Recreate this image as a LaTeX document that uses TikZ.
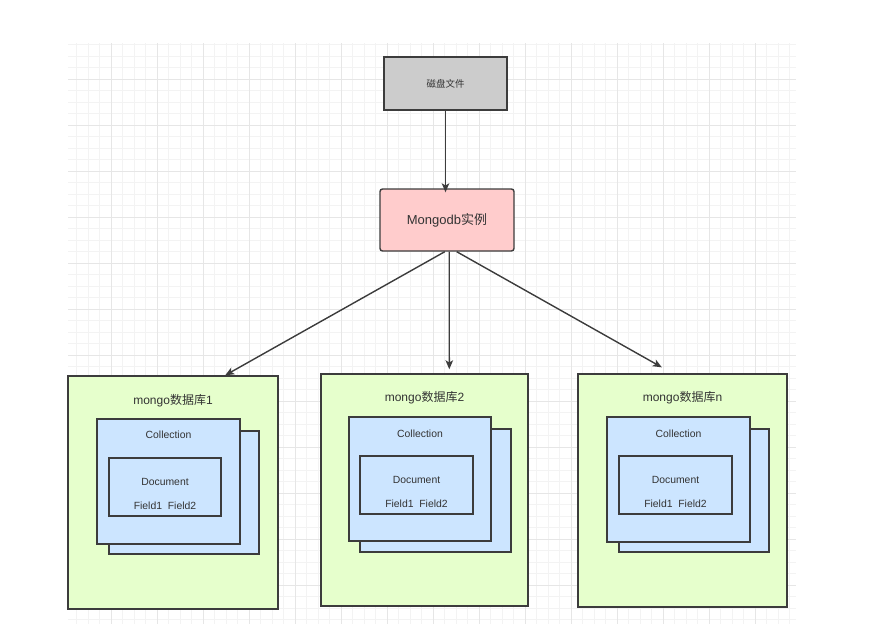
\documentclass[tikz,border=0pt]{standalone}
\usepackage{fontspec}
\setmainfont{Liberation Sans}
\newfontfamily\cjk{Noto Sans CJK SC}
\usepackage{xcolor}
\usepackage{tikz}
\usetikzlibrary{arrows.meta}

\definecolor{edgec}{HTML}{3C3C3C}
\definecolor{txtc}{HTML}{333333}
\definecolor{diskc}{HTML}{CCCCCC}
\definecolor{instc}{HTML}{FFCCCC}
\definecolor{dbc}{HTML}{E6FFCC}
\definecolor{colc}{HTML}{CCE5FF}
\definecolor{gridmin}{HTML}{F3F3F3}
\definecolor{gridmaj}{HTML}{E6E6E6}

\begin{document}
\begin{tikzpicture}[x=1pt, y=-1pt,
  box/.style={rectangle, draw=edgec, line width=1.4pt, inner sep=0pt},
  disk/.style={box, fill=diskc, minimum width=123, minimum height=53},
  inst/.style={box, fill=instc, rounded corners=2.5pt, minimum width=134, minimum height=62},
  db/.style={box, fill=dbc, minimum height=233},
  col/.style={box, fill=colc, minimum height=124},
  doc/.style={box, fill=colc, minimum height=58},
  lbl/.style={text=txtc, inner sep=0pt, font=\fontsize{10.4}{12}\selectfont},
  ttl/.style={text=txtc, inner sep=0pt, font=\fontsize{12}{14}\selectfont},
  ed/.style={-{Stealth[length=9pt, width=7.5pt, inset=2.2pt]}, draw=edgec, line width=1.4pt}
]
\useasboundingbox (0,0) rectangle (887,624);
%% Grid
\begin{scope}
  \clip (68,43) rectangle (796,624);
  \foreach \k in {1,...,63} \draw[gridmin, line width=1pt] ({65.3+11.5*\k},43) -- ({65.3+11.5*\k},624);
  \foreach \k in {1,...,51} \draw[gridmin, line width=1pt] (68,{33.3+11.5*\k}) -- (796,{33.3+11.5*\k});
  \foreach \k in {4,8,...,60} \draw[gridmaj, line width=1pt] ({65.3+11.5*\k},43) -- ({65.3+11.5*\k},624);
  \foreach \k in {4,8,...,48} \draw[gridmaj, line width=1pt] (68,{33.3+11.5*\k}) -- (796,{33.3+11.5*\k});
\end{scope}
%% Top
\node[disk] (dsk) at (445.5,83.5) {};
\node[text=txtc, font=\fontsize{9.5}{11}\selectfont\cjk] (dsktxt) at (445.5,83.5) {磁盘文件};
\node[inst] (mgi) at (447,220) {};
\node[ttl, font=\fontsize{13}{15}\selectfont] (mgitxt) at (447,220) {Mongodb{\cjk 实例}};
%% Database 1
\node[db, minimum width=210] (db1) at (173,492.5) {};
\node[col, minimum width=150, minimum height=123] (colb1) at (184,492.5) {};
\node[col, minimum width=143, minimum height=125] (col1) at (168.5,481.5) {};
\node[doc, minimum width=112] (doc1) at (165,487) {};
\node[ttl] (ttl1) at (173,401) {mongo{\cjk 数据库}1};
\node[lbl] (ctx1) at (168.5,435) {Collection};
\node[lbl] (dtx1) at (165,482) {Document};
\node[lbl] (ftx1) at (165,506) {Field1\ \ Field2};
%% Database 2
\node[db, minimum width=207, minimum height=232] (db2) at (424.5,490) {};
\node[col, minimum width=151, minimum height=123] (colb2) at (435.5,490.5) {};
\node[col, minimum width=142] (col2) at (420,479) {};
\node[doc, minimum width=113] (doc2) at (416.5,485) {};
\node[ttl] (ttl2) at (424.5,398) {mongo{\cjk 数据库}2};
\node[lbl] (ctx2) at (420,434) {Collection};
\node[lbl] (dtx2) at (416.5,480) {Document};
\node[lbl] (ftx2) at (416.5,504) {Field1\ \ Field2};
%% Database n
\node[db, minimum width=209] (dbn) at (682.5,490.5) {};
\node[col, minimum width=150, minimum height=123] (colbn) at (694,490.5) {};
\node[col, minimum width=143, minimum height=125] (coln) at (678.5,479.5) {};
\node[doc, minimum width=113] (docn) at (675.5,485) {};
\node[ttl] (ttln) at (682.5,398) {mongo{\cjk 数据库}n};
\node[lbl] (ctxn) at (678.5,434) {Collection};
\node[lbl] (dtxn) at (675.5,480) {Document};
\node[lbl] (ftxn) at (675.5,504) {Field1\ \ Field2};
%% Edges
\draw[ed] (dsk.south) -- ([yshift=-4]dsk.south |- mgi.north);
\draw[ed] (mgi.266) -- (db1.66);
\draw[ed] (mgi.274) -- ([yshift=4]db2.78);
\draw[ed] (mgi.287) -- ([yshift=6]dbn.100);
\end{tikzpicture}
\end{document}
